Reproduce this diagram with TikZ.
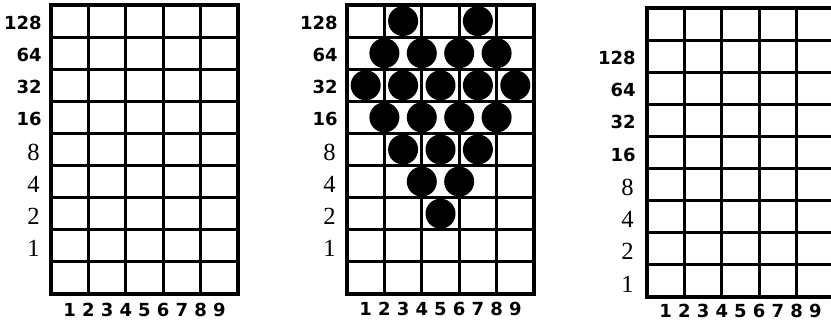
\documentclass[tikz,border=0pt]{standalone}
\usepackage{fontspec}
\newfontfamily\digitfont{DejaVu Sans}
\newfontfamily\weightfont{Liberation Serif}

\begin{document}
\begin{tikzpicture}[x=0.5pt, y=-0.5pt, line cap=rect,
    gridline/.style={line width=1.5pt},
    frameline/.style={line width=2pt},
    boldlab/.style={font=\digitfont\bfseries\fontsize{9}{10}\selectfont, anchor=east, inner sep=0pt},
    romanlab/.style={font=\weightfont\fontsize{12.3}{13}\selectfont, anchor=east, inner sep=0pt},
    collab/.style={font=\digitfont\bfseries\fontsize{9}{10}\selectfont, inner sep=0pt}]
    \useasboundingbox (0,0) rectangle (831,324);
    \clip (0,0) rectangle (831,324);

    % left grid, empty
    \begin{scope}[shift={(51,5)}, name prefix=a-]
        \foreach \i in {0,...,5}
            \draw[gridline] (\i*37.4,0) -- (\i*37.4,288.9);
        \foreach \j in {0,...,9}
            \draw[gridline] (0,\j*32.1) -- (187,\j*32.1);
        \draw[frameline] (0,0) rectangle (187,288.9);
        \foreach \v [count=\r] in {128,64,32,16}
            \node[boldlab] (\v) at (-9,\r*32.1-14) {\v};
        \foreach \v [count=\r from 5] in {8,4,2,1}
            \node[romanlab] (\v) at (-11,\r*32.1-13) {\v};
        \foreach \p in {1,...,9}
            \node[collab] (col\p) at (\p*18.7,288.9+16) {\p};
    \end{scope}

    % middle grid with the dots
    \begin{scope}[shift={(347,5)}, name prefix=b-]
        \foreach \i in {0,...,5}
            \draw[gridline] (\i*37.4,0) -- (\i*37.4,288.9);
        \foreach \j in {0,...,9}
            \draw[gridline] (0,\j*32.1) -- (187,\j*32.1);
        \draw[frameline] (0,0) rectangle (187,288.9);
        \foreach \v [count=\r] in {128,64,32,16}
            \node[boldlab] (\v) at (-9,\r*32.1-14) {\v};
        \foreach \v [count=\r from 5] in {8,4,2,1}
            \node[romanlab] (\v) at (-11,\r*32.1-13) {\v};
        \foreach \p in {1,...,9}
            \node[collab] (col\p) at (\p*18.7,288.9+15) {\p};
        \foreach \r/\ps in {1/{3,7}, 2/{2,4,6,8}, 3/{1,3,5,7,9}, 4/{2,4,6,8},
                            5/{3,5,7}, 6/{4,6}, 7/{5}}
            \foreach \p in \ps
                \fill (\p*18.7,\r*32.1-16) circle (15);
    \end{scope}

    % right grid, weights one row lower
    \begin{scope}[shift={(647,8)}, name prefix=c-]
        \foreach \i in {0,...,5}
            \draw[gridline] (\i*37.4,0) -- (\i*37.4,288.9);
        \foreach \j in {0,...,9}
            \draw[gridline] (0,\j*32.1) -- (187,\j*32.1);
        \draw[frameline] (0,0) rectangle (187,288.9);
        \foreach \v [count=\r from 2] in {128,64,32,16}
            \node[boldlab] (\v) at (-11,\r*32.1-14) {\v};
        \foreach \v [count=\r from 6] in {8,4,2,1}
            \node[romanlab] (\v) at (-13,\r*32.1-13) {\v};
        \foreach \p in {1,...,9}
            \node[collab] (col\p) at (\p*18.7,288.9+14) {\p};
    \end{scope}
\end{tikzpicture}
\end{document}
